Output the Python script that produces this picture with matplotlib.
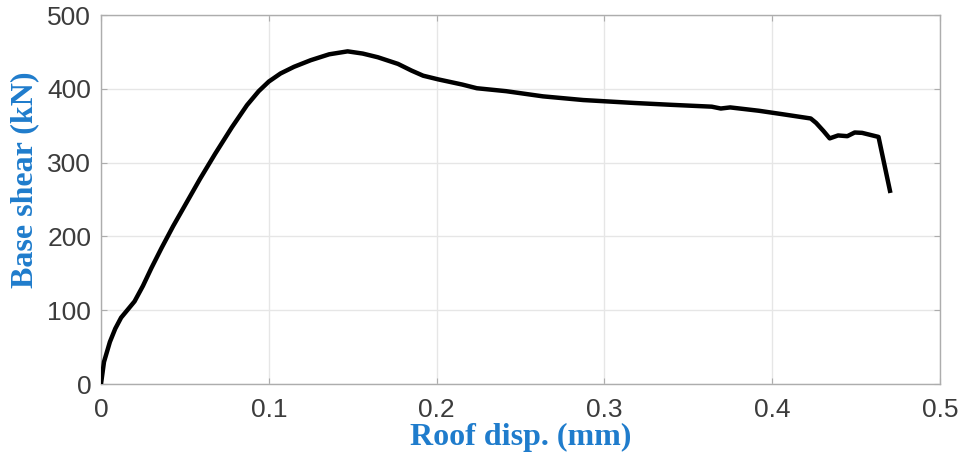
import matplotlib
matplotlib.use("Agg")
import matplotlib.pyplot as plt

# Pushover curve: roof displacement vs base shear
roof_disp = [0.0, 0.0018, 0.0053, 0.0085, 0.012, 0.016, 0.020, 0.025, 0.030,
             0.036, 0.043, 0.051, 0.059, 0.068, 0.078, 0.087, 0.094, 0.100,
             0.107, 0.115, 0.125, 0.136, 0.147, 0.156, 0.165, 0.177, 0.185,
             0.192, 0.201, 0.2153, 0.224, 0.2415, 0.2634, 0.2874, 0.318, 0.34,
             0.364, 0.3694, 0.375, 0.392, 0.4055, 0.423, 0.4262, 0.4306, 0.4343,
             0.4393, 0.4448, 0.4492, 0.4536, 0.4634, 0.4705]
base_shear = [0, 30, 57, 75, 90, 101, 112, 133, 157,
              184, 214, 246, 278, 312, 348, 378, 397, 410,
              421, 430, 439, 447, 451, 448, 443, 434, 425,
              418, 413, 406, 401, 397, 390, 385, 381, 378.5,
              376, 373.5, 375, 370.5, 366, 360, 354, 343, 333,
              337, 336, 341, 340.5, 335, 259]

x_ticks = [0, 0.1, 0.2, 0.3, 0.4, 0.5]
x_tick_labels = ["0", "0.1", "0.2", "0.3", "0.4", "0.5"]
y_ticks = [0, 100, 200, 300, 400, 500]

label_color = "#1f7ccc"
tick_color = "#3c3c3c"

fig = plt.figure(figsize=(9.71, 4.61), dpi=100)
ax = fig.add_axes([0.104, 0.167, 0.864, 0.8])

ax.plot(roof_disp, base_shear, color="black", linewidth=3.2, solid_capstyle="butt",
        solid_joinstyle="round", zorder=3)

ax.set_xlim(0, 0.5)
ax.set_ylim(0, 500)
ax.set_xticks(x_ticks)
ax.set_xticklabels(x_tick_labels)
ax.set_yticks(y_ticks)

ax.grid(True, color="#e6e6e6", linewidth=1.0)
ax.set_axisbelow(True)
for side in ax.spines.values():
    side.set_color("#adadad")
    side.set_linewidth(1.0)

ax.tick_params(axis="both", direction="in", length=4, width=0.8, color="#adadad",
               labelcolor=tick_color, labelsize=19, top=True, right=True)
ax.tick_params(axis="x", pad=10)
ax.tick_params(axis="y", pad=7)
for lbl in ax.get_xticklabels() + ax.get_yticklabels():
    lbl.set_fontfamily("Liberation Sans")

ax.set_xlabel("Roof disp. (mm)", fontsize=23, fontweight="bold",
              family="Liberation Serif", color=label_color, labelpad=1)
ax.set_ylabel("Base shear (kN)", fontsize=23, fontweight="bold",
              family="Liberation Serif", color=label_color)
ax.yaxis.set_label_coords(-0.074, 0.553)

fig.savefig("out.png", dpi=100)
